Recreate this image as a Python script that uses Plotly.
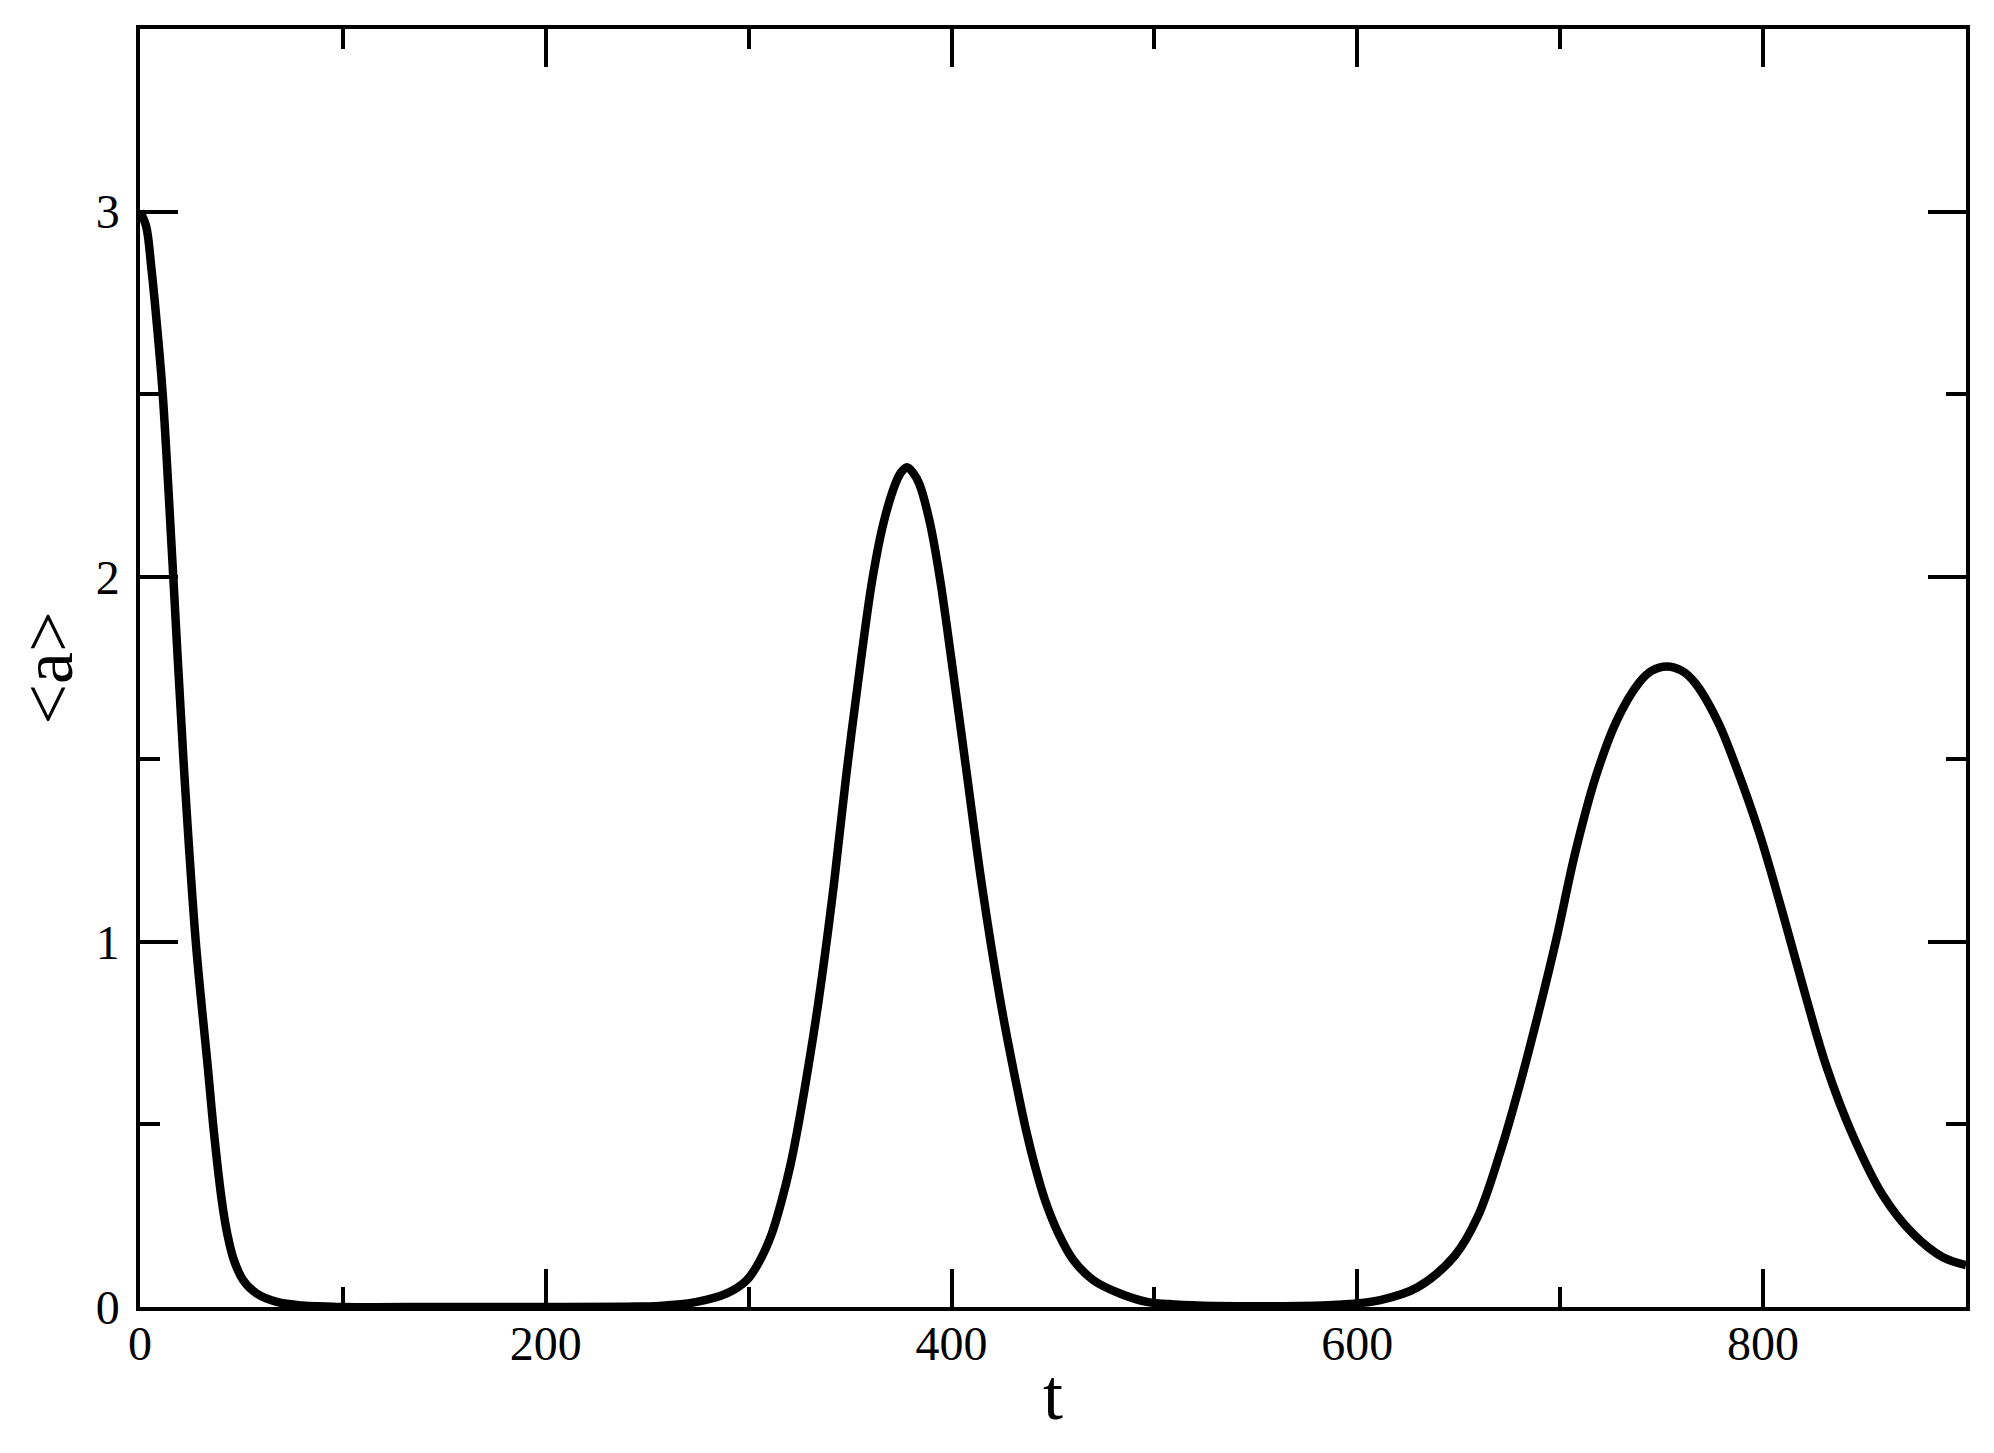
import plotly.graph_objects as go

# Values
t_vals = [0, 3, 5.7, 8.5, 11.2, 16.4, 21.4, 27.5, 33.4, 36.5, 40.3, 43, 46.3, 50.9,
          57.5, 67.4, 80, 100, 150, 200, 240, 256,
          274.4, 289.2, 299, 305.6, 311.4, 316.3, 320.4, 323.7, 329.4, 334.5, 342, 348.2, 355.2, 361,
          366.4, 372.2, 375, 378, 381, 384.2, 389.4, 394.3, 400.1, 407.5, 414.9, 424, 430.2, 437.1,
          441.2, 446.1, 452.7, 460.1, 470, 483, 496.3, 510, 530, 560, 590,
          611.3, 629.7, 648.2, 659.3, 670.4, 679.6, 688.9, 698.1, 707.3, 717.5, 727.7, 738.8,
          745, 752.6, 760, 766.5, 777.6, 786.9, 798, 809.1, 820.2, 831.3, 844.2, 859, 873.8, 888.6, 900]
a_vals = [3.0, 2.96, 2.84, 2.68, 2.5, 2.0, 1.5, 1.0, 0.658, 0.475, 0.292, 0.201, 0.128, 0.073,
          0.037, 0.014, 0.004, 0.0, 0.0, 0.0, 0.001, 0.003,
          0.014, 0.037, 0.073, 0.128, 0.201, 0.292, 0.384, 0.475, 0.658, 0.840, 1.157, 1.461, 1.766, 1.994,
          2.146, 2.253, 2.285, 2.30, 2.285, 2.253, 2.146, 1.994, 1.766, 1.461, 1.157, 0.840, 0.658, 0.475,
          0.384, 0.292, 0.201, 0.128, 0.073, 0.037, 0.014, 0.007, 0.003, 0.002, 0.006,
          0.019, 0.054, 0.142, 0.247, 0.423, 0.599, 0.797, 1.008, 1.242, 1.452, 1.604, 1.709,
          1.742, 1.754, 1.742, 1.709, 1.604, 1.476, 1.30, 1.090, 0.867, 0.657, 0.470, 0.306, 0.201, 0.136, 0.115]

x_ticks = [0, 200, 400, 600, 800]
y_ticks = [0, 1, 2, 3]

FONT = "Liberation Serif"

fig = go.Figure()
fig.add_trace(go.Scatter(x=t_vals, y=a_vals, mode="lines",
                         line=dict(color="black", width=8.5, shape="spline", smoothing=1.0),
                         showlegend=False, cliponaxis=True))

axis_common = dict(
    showline=True, linecolor="black", linewidth=3.5, mirror="ticks",
    ticks="inside", ticklen=38, tickwidth=3.5, tickcolor="black",
    showgrid=False, zeroline=False, automargin=False,
    tickfont=dict(family=FONT, size=48, color="black"),
)

fig.update_xaxes(range=[0, 900], tickvals=x_ticks, ticktext=[str(v) for v in x_ticks],
                 minor=dict(dtick=100, tick0=0, ticks="inside", ticklen=20, tickwidth=3.5, tickcolor="black"),
                 title=dict(text="t", font=dict(family=FONT, size=72, color="black"), standoff=0),
                 ticklabelstandoff=-8,
                 **axis_common)
fig.update_yaxes(range=[0, 3.5], tickvals=y_ticks, ticktext=[str(v) for v in y_ticks],
                 minor=dict(dtick=0.5, tick0=0, ticks="inside", ticklen=20, tickwidth=3.5, tickcolor="black"),
                 title=dict(text="&lt;a&gt;", font=dict(family=FONT, size=72, color="black"), standoff=6),
                 ticklabelstandoff=7,
                 **axis_common)

# The page body adds an 8px offset, so the figure is sized to keep the plot area in place
fig.update_layout(
    width=1986, height=1445,
    margin=dict(l=132, r=28, t=21, b=146),
    paper_bgcolor="white", plot_bgcolor="white",
    font=dict(family=FONT, color="black"),
)

fig.write_html("out.html")
